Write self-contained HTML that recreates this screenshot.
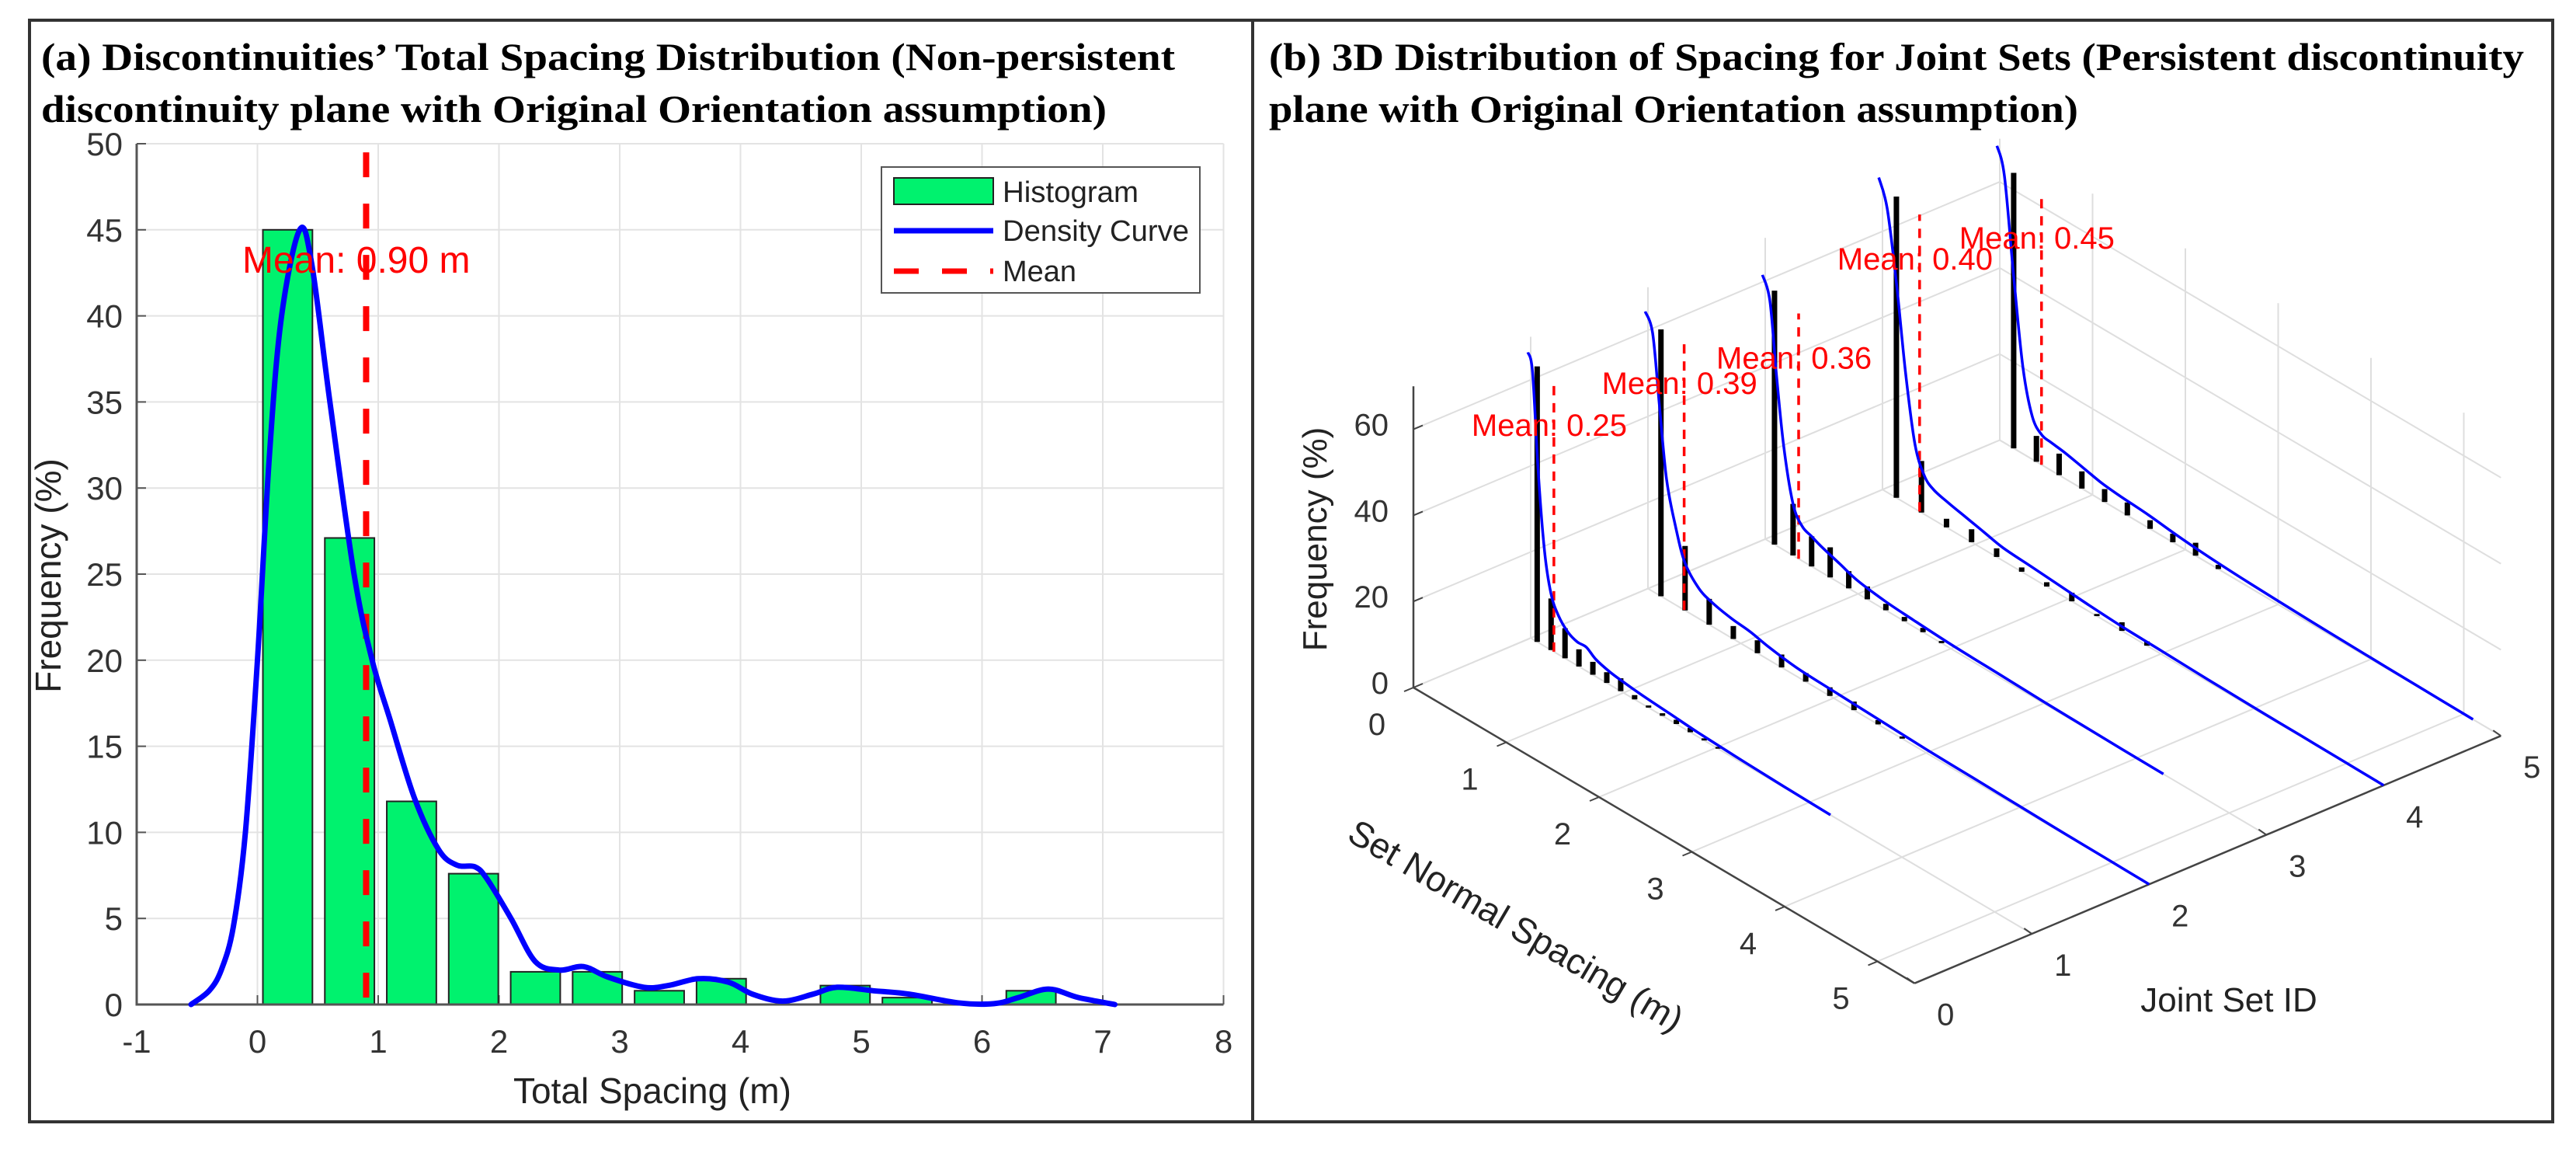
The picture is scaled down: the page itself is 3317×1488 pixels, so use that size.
<!DOCTYPE html>
<html><head><meta charset="utf-8"><style>
html,body{margin:0;padding:0;background:#fff;}
svg{display:block;font-family:"Liberation Sans",sans-serif;}
.ttl{font-family:"Liberation Serif",serif;font-weight:bold;font-size:50px;fill:#000;}
</style></head><body>
<svg id="fig" width="3317" height="1488" viewBox="0 0 3317 1488">
<rect x="38" y="26" width="1575" height="1418" fill="none" stroke="#333" stroke-width="4"/>
<rect x="1613" y="26" width="1674" height="1418" fill="none" stroke="#333" stroke-width="4"/>
<text class="ttl" x="53" y="90" textLength="1460" lengthAdjust="spacingAndGlyphs">(a) Discontinuities’ Total Spacing Distribution (Non-persistent</text>
<text class="ttl" x="53" y="157" textLength="1372" lengthAdjust="spacingAndGlyphs">discontinuity plane with Original Orientation assumption)</text>
<text class="ttl" x="1634" y="90" textLength="1616" lengthAdjust="spacingAndGlyphs">(b) 3D Distribution of Spacing for Joint Sets (Persistent discontinuity</text>
<text class="ttl" x="1634" y="157" textLength="1042" lengthAdjust="spacingAndGlyphs">plane with Original Orientation assumption)</text>
<g id="ga"></g>
<g id="gb"></g>
</svg>
<script>
// ---------- Panel (a) data ----------
const histBinStart = 0.045;
const histBinWidth = 0.513;
const histValues = [45, 27.1, 11.8, 7.6, 1.9, 1.9, 0.8, 1.5, 0, 1.1, 0.4, 0, 0.8];
const densityX = [-0.55,-0.4,-0.3,-0.2,-0.1,0,0.1,0.2,0.35,0.45,0.6,0.8,0.95,1.1,1.3,1.5,1.65,1.8,1.9,2.1,2.3,2.5,2.7,2.9,3.2,3.4,3.65,3.9,4.1,4.35,4.6,4.8,5.1,5.4,5.8,6.1,6.3,6.55,6.8,7.1];
const densityY = [0,0.8,2,4.5,10,20,32,40,45,43,35,25,20,16.5,12,9,8.1,8,7.3,5,2.5,2,2.2,1.6,1,1.1,1.5,1.3,0.6,0.2,0.6,1,0.8,0.6,0.1,0.05,0.4,0.9,0.4,0];
const meanValue = 0.90;
const xTicksA = [-1,0,1,2,3,4,5,6,7,8];
const yTicksA = [0,5,10,15,20,25,30,35,40,45,50];

// ---------- Panel (b) data ----------
const setIds = [1,2,3,4,5];
const setMeans = [0.25,0.39,0.36,0.40,0.45];
const setMeanTop = [63,63,57,69,63];
const barStart = [0.07,0.14,0.10,0.15,0.15];
const barStep = [0.15,0.26,0.20,0.27,0.245];
const bars1 = [64,12,7,4,3,2.5,3,1,0.5,0.6,1,1,0.5,0.4];
const bars2 = [62,15,6,3,3,3,2,2,2,1,0.5];
const bars3 = [59,12,7,7,4,3,1.5,1,1,0.5];
const bars4 = [70,12,2,3,2,1,1,2,0.5,2,1];
const bars5 = [64,6,5,4,3,3,2,2,3,1];
const curveS1 = [-0.03,0.02,0.08,0.15,0.22,0.3,0.4,0.5,0.6,0.7,0.85,1.0,1.2,1.5,1.8,2.2,2.6,3.0,3.23];
const curveZ1 = [66,62,40,22,13,9,6.5,5.5,5.5,4,3,2.5,2,1.5,1,0.6,0.3,0.1,0];
const curveS2 = [-0.03,0.05,0.12,0.2,0.3,0.4,0.55,0.7,0.9,1.1,1.3,1.6,2,2.5,3,3.5,4,4.5,5,5.4];
const curveZ2 = [64,60,45,28,18,11,7,5.5,4.5,4,3,2,1.6,1.2,0.8,0.6,0.4,0.2,0.1,0];
const curveS3 = [-0.03,0.05,0.12,0.2,0.3,0.4,0.5,0.6,0.8,1.0,1.3,1.6,2,2.5,3,3.5,4.29];
const curveZ3 = [61,56,40,24,12,8,7,6,4.5,3,2,1.5,1,0.7,0.4,0.2,0];
const curveS4 = [-0.04,0.05,0.15,0.25,0.35,0.45,0.55,0.7,0.9,1.1,1.3,1.6,1.9,2.2,2.6,3,3.5,4,4.5,5,5.4];
const curveZ4 = [72,66,50,30,15,9,7,6,5,4,3,2.5,2,1.5,1,0.8,0.5,0.3,0.2,0.1,0];
const curveS5 = [-0.03,0.05,0.15,0.25,0.35,0.45,0.55,0.7,0.9,1.1,1.3,1.6,1.9,2.2,2.6,3,3.5,4,4.5,5.1];
const curveZ5 = [68,62,40,20,10,7,6.5,6,5,4,3.5,3,2.2,1.6,1.1,0.8,0.5,0.3,0.15,0];
const zTicksB = [0,20,40,60];
const sTicksB = [0,1,2,3,4,5];
const jTicksB = [0,1,2,3,4,5];

const NS = "http://www.w3.org/2000/svg";
function mk(parent, tag, attrs, txt){
  const e = document.createElementNS(NS, tag);
  for (const k in attrs) e.setAttribute(k, attrs[k]);
  if (txt !== undefined) e.textContent = txt;
  parent.appendChild(e);
  return e;
}
function smoothPath(pts){
  let d = "M" + pts[0][0].toFixed(1) + "," + pts[0][1].toFixed(1);
  for (let i = 0; i < pts.length - 1; i++){
    const p0 = pts[Math.max(0,i-1)], p1 = pts[i], p2 = pts[i+1], p3 = pts[Math.min(pts.length-1,i+2)];
    const c1x = p1[0] + (p2[0]-p0[0])/6, c1y = p1[1] + (p2[1]-p0[1])/6;
    const c2x = p2[0] - (p3[0]-p1[0])/6, c2y = p2[1] - (p3[1]-p1[1])/6;
    d += " C" + c1x.toFixed(1)+","+c1y.toFixed(1)+" "+c2x.toFixed(1)+","+c2y.toFixed(1)+" "+p2[0].toFixed(1)+","+p2[1].toFixed(1);
  }
  return d;
}

// ---------- Panel (a) ----------
const ga = document.getElementById('ga');
const X = v => 176 + (v + 1) * 155.5;
const Y = v => 1293 - v * 22.16;
xTicksA.forEach(t => {
  const g = mk(ga, 'line', {x1:X(t), x2:X(t), y1:Y(0), y2:Y(50), stroke:'#e3e3e3', 'stroke-width':2});
  
  
  const tk = mk(ga, 'line', {x1:X(t), x2:X(t), y1:Y(0), y2:Y(0)-12, stroke:'#555', 'stroke-width':2});
  
  
  const l = mk(ga, 'text', {x:X(t), y:1355, 'font-size':42, 'text-anchor':'middle', fill:'#333'}, String(t));
  
  
});
yTicksA.forEach(t => {
  const g = mk(ga, 'line', {x1:X(-1), x2:X(8), y1:Y(t), y2:Y(t), stroke:'#e3e3e3', 'stroke-width':2});
  
  
  const tk = mk(ga, 'line', {x1:X(-1), x2:X(-1)+12, y1:Y(t), y2:Y(t), stroke:'#555', 'stroke-width':2});
  
  
  const l = mk(ga, 'text', {x:X(-1)-18, y:Y(t)+15, 'font-size':42, 'text-anchor':'end', fill:'#333'}, String(t));
  
  
});
histValues.forEach((v, k) => {
  if (v <= 0) return;
  const x0 = histBinStart + k * histBinWidth, x1 = x0 + histBinWidth * 0.8;
  const r = mk(ga, 'rect', {x:X(x0), y:Y(v), width:X(x1)-X(x0), height:Y(0)-Y(v), fill:'#00f26e', stroke:'#222', 'stroke-width':2});
  
  
});
const axA = mk(ga, 'path', {d:`M${X(-1)},${Y(50)} V${Y(0)} H${X(8)}`, fill:'none', stroke:'#555', 'stroke-width':3});


const ml = mk(ga, 'line', {x1:X(meanValue), x2:X(meanValue), y1:Y(49.5), y2:Y(0), stroke:'#ff0000', 'stroke-width':8, 'stroke-dasharray':'32,34'});


const dens = mk(ga, 'path', {d:smoothPath(densityX.map((x,i)=>[X(x),Y(densityY[i])])), fill:'none', stroke:'#0000ff', 'stroke-width':7, 'stroke-linecap':'round'});


const mt = mk(ga, 'text', {x:312, y:351, 'font-size':48, fill:'#ff0000'}, 'Mean: ' + meanValue.toFixed(2) + ' m');


const xl = mk(ga, 'text', {x:840, y:1420, 'font-size':46, 'text-anchor':'middle', fill:'#222'}, 'Total Spacing (m)');


const yl = mk(ga, 'text', {x:0, y:0, 'font-size':46, 'text-anchor':'middle', fill:'#222', transform:'translate(78,741) rotate(-90)'}, 'Frequency (%)');


// legend
const lg = mk(ga, 'g', {});


mk(lg, 'rect', {x:1135, y:215, width:410, height:162, fill:'#fff', stroke:'#555', 'stroke-width':2});
const le1 = mk(lg, 'rect', {x:1151, y:229, width:128, height:34, fill:'#00f26e', stroke:'#222', 'stroke-width':2});


mk(lg, 'text', {x:1291, y:260, 'font-size':38, fill:'#222', textLength:175, lengthAdjust:'spacingAndGlyphs'}, 'Histogram');
mk(lg, 'line', {x1:1151, x2:1279, y1:297, y2:297, stroke:'#0000ff', 'stroke-width':7});
mk(lg, 'text', {x:1291, y:310, 'font-size':38, fill:'#222', textLength:240, lengthAdjust:'spacingAndGlyphs'}, 'Density Curve');
mk(lg, 'line', {x1:1151, x2:1279, y1:349, y2:349, stroke:'#ff0000', 'stroke-width':7, 'stroke-dasharray':'32,30'});
mk(lg, 'text', {x:1291, y:362, 'font-size':38, fill:'#222', textLength:95, lengthAdjust:'spacingAndGlyphs'}, 'Mean');

// ---------- Panel (b) ----------
const gb = document.getElementById('gb');
const S_MAX = 5.4, J_MAX = 5, Z_MAX = 70;
function P(s, j, z){ return [1820 + 119.5*s + 151*j, 885 + 70.5*s - 63.7*j - 5.54*z]; }
function ln(a, b, st, w, name){
  const e = mk(gb, 'line', {x1:a[0], y1:a[1], x2:b[0], y2:b[1], stroke:st, 'stroke-width':w});
  
  
  return e;
}
const GC = '#dedede';
for (let j = 0; j <= J_MAX; j++) ln(P(0,j,0), P(S_MAX,j,0), GC, 2, 'floor-grid');
sTicksB.forEach(s => ln(P(s,0,0), P(s,J_MAX,0), GC, 2, 'floor-grid'));
for (let j = 0; j <= J_MAX; j++) ln(P(0,j,0), P(0,j,Z_MAX), GC, 2, 'wall-grid');
zTicksB.forEach(z => ln(P(0,0,z), P(0,J_MAX,z), GC, 2, 'wall-grid'));
sTicksB.forEach(s => ln(P(s,J_MAX,0), P(s,J_MAX,Z_MAX), GC, 2, 'wall-grid'));
zTicksB.forEach(z => ln(P(0,J_MAX,z), P(S_MAX,J_MAX,z), GC, 2, 'wall-grid'));
// axes
ln(P(0,0,0), P(0,0,Z_MAX), '#444', 2.5, 'z-axis');
ln(P(0,0,0), P(S_MAX,0,0), '#444', 2.5, 'spacing-axis');
ln(P(S_MAX,0,0), P(S_MAX,J_MAX,0), '#444', 2.5, 'joint-set-axis');
zTicksB.forEach(z => {
  const p = P(0,0,z);
  ln(p, [p[0]+12, p[1]-5], '#444', 2, 'z-tick');
  const t = mk(gb, 'text', {x:p[0]-32, y:p[1]+8, 'font-size':40, 'text-anchor':'end', fill:'#333'}, String(z));
  
  
});
sTicksB.forEach(s => {
  const p = P(s,0,0);
  ln(p, [p[0]-12, p[1]+5], '#444', 2, 'spacing-tick');
  const t = mk(gb, 'text', {x:p[0]-47, y:p[1]+61, 'font-size':40, 'text-anchor':'middle', fill:'#333'}, String(s));
  
  
});
jTicksB.forEach(j => {
  const p = P(S_MAX,j,0);
  ln(p, [p[0]-10, p[1]-7], '#444', 2, 'joint-tick');
  const t = mk(gb, 'text', {x:p[0]+40, y:p[1]+54, 'font-size':40, 'text-anchor':'middle', fill:'#333'}, String(j));
  
  
});
const zl = mk(gb, 'text', {x:0, y:0, 'font-size':44, 'text-anchor':'middle', fill:'#222', transform:'translate(1708,694) rotate(-90)'}, 'Frequency (%)');


const sl = mk(gb, 'text', {x:0, y:0, 'font-size':46, 'text-anchor':'middle', fill:'#222', transform:'translate(1944,1205) rotate(30.5)'}, 'Set Normal Spacing (m)');


const jl = mk(gb, 'text', {x:2870, y:1302, 'font-size':44, 'text-anchor':'middle', fill:'#222'}, 'Joint Set ID');



const barsAll = [bars1,bars2,bars3,bars4,bars5];
const curveSAll = [curveS1,curveS2,curveS3,curveS4,curveS5];
const curveZAll = [curveZ1,curveZ2,curveZ3,curveZ4,curveZ5];
setIds.forEach((j, i) => {
  barsAll[i].forEach((h, k) => {
    const s = barStart[i] + k * barStep[i];
    ln(P(s,j,0), P(s,j,h), '#000', 7, 'spacing-bar');
  });
  const m = setMeans[i];
  const mlb = mk(gb, 'line', {x1:P(m,j,0)[0], y1:P(m,j,0)[1], x2:P(m,j,setMeanTop[i])[0], y2:P(m,j,setMeanTop[i])[1], stroke:'#ff0000', 'stroke-width':3.5, 'stroke-dasharray':'12,10'});
  
  
  const cv = mk(gb, 'path', {d:smoothPath(curveSAll[i].map((s,k)=>P(s,j,curveZAll[i][k]))), fill:'none', stroke:'#0000ff', 'stroke-width':3.5});
  
  
  const top = P(m,j,setMeanTop[i]);
  const tx = mk(gb, 'text', {x:top[0]-106, y:top[1]+71, 'font-size':40, fill:'#ff0000'}, 'Mean: ' + m.toFixed(2));
  
  
});
</script>
</body></html>
